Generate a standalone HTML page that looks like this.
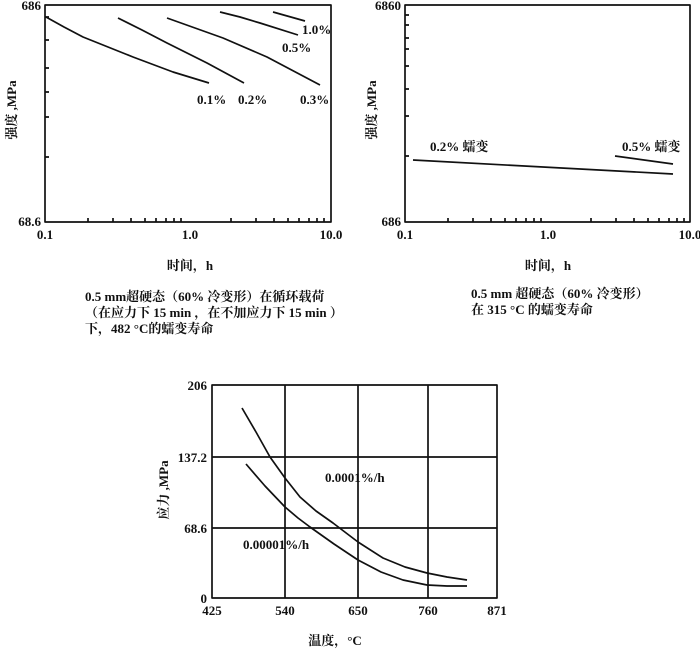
<!DOCTYPE html>
<html><head><meta charset="utf-8"><style>
body{margin:0;background:#fff}
svg{display:block}
text{font-family:"Liberation Serif","Noto Serif CJK SC",serif;font-weight:bold;fill:#111}
</style></head><body>
<svg width="700" height="652" viewBox="0 0 700 652">
<g fill="none" stroke="#111" stroke-width="1.7" stroke-linejoin="round">
<!-- chart 1 -->
<rect x="45" y="5" width="286" height="217"/>
<path d="M45,17h4M45,40h4M45,68h4M45,92h4M45,117h4M45,157h4"/>
<path d="M88,222v-4M113,222v-4M131,222v-4M145,222v-4M156,222v-4M166,222v-4M174,222v-4M181,222v-4M231,222v-4M256,222v-4M274,222v-4M288,222v-4M299,222v-4M309,222v-4M317,222v-4M324,222v-4"/>
<path d="M46,17 L64,27 L83,37 L108,47 L133,57 L173,72 L209,83"/>
<path d="M118,18 L142,30 L167,43 L207,63 L244,83"/>
<path d="M167,18 L195,28 L223,38 L267,57 L320,85"/>
<path d="M220,12 L240,17 L260,23 L298,35"/>
<path d="M273,12 L305,21"/>
<!-- chart 2 -->
<rect x="405" y="5" width="285" height="217"/>
<path d="M405,15h4M405,25h4M405,38h4M405,49h4M405,66h4M405,89h4M405,116h4M405,156h4"/>
<path d="M448,222v-4M473,222v-4M491,222v-4M505,222v-4M516,222v-4M526,222v-4M534,222v-4M541,222v-4M591,222v-4M616,222v-4M634,222v-4M648,222v-4M659,222v-4M669,222v-4M677,222v-4M684,222v-4"/>
<path d="M413,160 L673,174"/>
<path d="M615,156 L673,164"/>
<!-- chart 3 -->
<rect x="212" y="385" width="285" height="213"/>
<path d="M285,385V598M358,385V598M428,385V598M212,457H497M212,528H497"/>
<path d="M242,408 L256,432 L270,457 L285,478 L300,497 L316,511 L333,523 L358,542 L383,558 L405,567 L427,573 L447,577 L467,580"/>
<path d="M246,464 L265,486 L285,507 L298,518 L310,527 L334,544 L358,560 L381,572 L403,580 L427,585 L447,586 L467,586"/>
</g>
<g font-size="13">
<text x="41" y="10" text-anchor="end">686</text>
<text x="41" y="226" text-anchor="end">68.6</text>
<text x="45" y="239" text-anchor="middle">0.1</text>
<text x="190" y="239" text-anchor="middle">1.0</text>
<text x="331" y="239" text-anchor="middle">10.0</text>
<text x="197" y="104">0.1%</text>
<text x="238" y="104">0.2%</text>
<text x="300" y="104">0.3%</text>
<text x="282" y="52">0.5%</text>
<text x="302" y="34">1.0%</text>
<text transform="translate(16,110) rotate(-90)" text-anchor="middle">强度 ,MPa</text>
<text x="190" y="270" text-anchor="middle">时间，h</text>
<text x="85" y="301">0.5 mm超硬态（60% 冷变形）在循环载荷</text>
<text x="85" y="317">（在应力下 15 min ，在不加应力下 15 min ）</text>
<text x="85" y="333">下，482 °C的蠕变寿命</text>

<text x="401" y="10" text-anchor="end">6860</text>
<text x="401" y="226" text-anchor="end">686</text>
<text x="405" y="239" text-anchor="middle">0.1</text>
<text x="548" y="239" text-anchor="middle">1.0</text>
<text x="690" y="239" text-anchor="middle">10.0</text>
<text x="430" y="151">0.2% 蠕变</text>
<text x="622" y="151">0.5% 蠕变</text>
<text transform="translate(376,110) rotate(-90)" text-anchor="middle">强度 ,MPa</text>
<text x="548" y="270" text-anchor="middle">时间，h</text>
<text x="471" y="298">0.5 mm 超硬态（60% 冷变形）</text>
<text x="471" y="314">在 315 °C 的蠕变寿命</text>

<text x="207" y="390" text-anchor="end">206</text>
<text x="207" y="462" text-anchor="end">137.2</text>
<text x="207" y="533" text-anchor="end">68.6</text>
<text x="207" y="603" text-anchor="end">0</text>
<text x="212" y="615" text-anchor="middle">425</text>
<text x="285" y="615" text-anchor="middle">540</text>
<text x="358" y="615" text-anchor="middle">650</text>
<text x="428" y="615" text-anchor="middle">760</text>
<text x="497" y="615" text-anchor="middle">871</text>
<text x="325" y="482">0.0001%/h</text>
<text x="243" y="549">0.00001%/h</text>
<text transform="translate(168,490) rotate(-90)" text-anchor="middle">应力 ,MPa</text>
<text x="335" y="645" text-anchor="middle">温度，°C</text>
</g>
</svg>
</body></html>
